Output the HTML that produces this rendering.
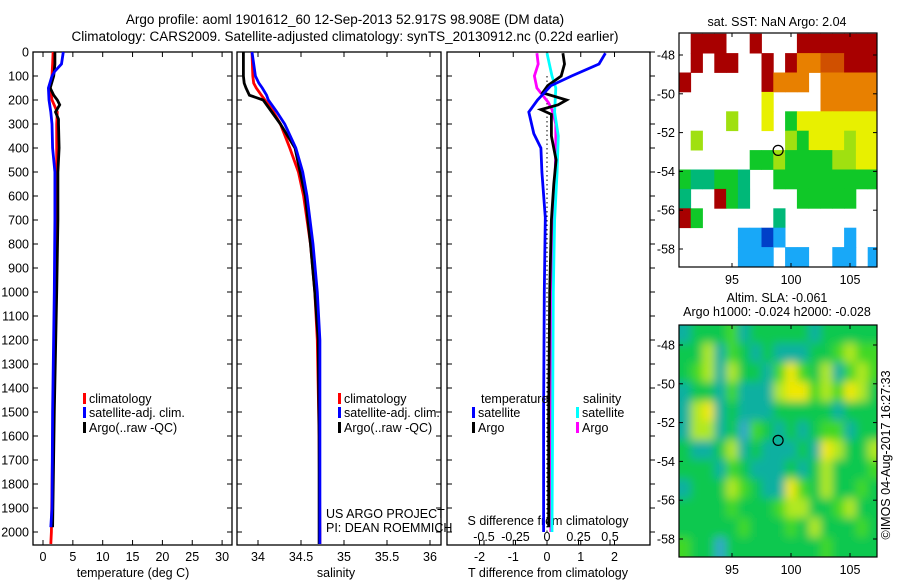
<!DOCTYPE html>
<html><head><meta charset="utf-8"><style>
html,body{margin:0;padding:0;background:#fff;}
svg{display:block;font-family:"Liberation Sans",sans-serif;}
</style></head><body>
<svg id="c" width="900" height="580" viewBox="0 0 900 580">
<defs>
<filter id="blur" x="-10%" y="-10%" width="120%" height="120%"><feGaussianBlur stdDeviation="4.5"/></filter>
<clipPath id="slaclip"><rect x="679" y="325" width="198" height="232"/></clipPath>
</defs>
<rect width="900" height="580" fill="#fff"/>
<text x="345" y="24" font-size="13.5" text-anchor="middle">Argo profile: aoml 1901612_60 12-Sep-2013 52.917S 98.908E (DM data)</text>
<text x="345" y="41" font-size="13.5" text-anchor="middle">Climatology: CARS2009. Satellite-adjusted climatology: synTS_20130912.nc (0.22d earlier)</text>
<g id="g"></g>
</svg>
<script>
// ---- data ----
const depthTicks=[0,100,200,300,400,500,600,700,800,900,1000,1100,1200,1300,1400,1500,1600,1700,1800,1900,2000];
const tempTicks=[0,5,10,15,20,25,30];
const salTicks=[34,34.5,35,35.5,36];
const tdiffTicks=[-2,-1,0,1,2];
const sdiffTicks=[-0.5,-0.25,0,0.25,0.5];
const sdiffTickLabels=["-0.5","-0.25","0","0.25","0.5"];

const tClimDepth=[0,50,100,150,200,250,300,400,500,700,1000,1500,2000,2050];
const tClimVal=[1.7,1.6,1.5,1.2,1.5,2.4,2.3,2.3,2.3,2.2,2.0,1.7,1.4,1.3];
const tSatDepth=[0,50,80,100,150,200,250,300,400,500,700,1000,1500,1900,1980];
const tSatVal=[3.4,3.1,2.0,1.5,0.9,1.0,1.3,1.5,1.6,2.0,2.0,1.9,1.6,1.5,1.3];
const tArgoDepth=[0,50,100,150,180,200,220,250,280,300,400,500,700,1000,1500,1980];
const tArgoVal=[2.0,2.0,1.8,1.2,1.8,2.4,2.8,2.1,2.6,2.6,2.7,2.5,2.5,2.3,1.9,1.6];

const sDepth=[0,100,130,150,180,200,250,300,400,500,600,800,1000,1200,1600,2000,2050];
const sClimVal=[33.93,33.94,33.95,33.98,34.04,34.08,34.18,34.26,34.37,34.47,34.53,34.61,34.66,34.69,34.71,34.72,34.72];
const sSatVal=[33.93,33.97,34.01,34.05,34.1,34.12,34.22,34.31,34.44,34.52,34.57,34.64,34.69,34.72,34.72,34.72,34.72];
const sArgoVal=[33.83,33.83,33.84,33.86,33.9,34.06,34.16,34.26,34.43,34.49,34.55,34.61,34.66,34.70,34.71,34.71,34.71];

const dTSatDepth=[5,50,100,140,200,250,340,400,500,690,1000,1500,2000];
const dTSatVal=[1.73,1.54,0.73,0.12,-0.28,-0.54,-0.39,-0.18,-0.15,-0.05,-0.08,-0.1,-0.1];
const dTArgoDepth=[5,50,100,140,170,200,220,240,260,350,450,550,700,1000,1500,1980];
const dTArgoVal=[0.47,0.52,0.42,0.02,-0.13,0.58,0.33,-0.18,0.13,0.13,0.27,0.2,0.13,0.08,0.05,0.05];
const dSArgoDepth=[5,50,100,150,190,210,240,300,400,600,1000,2000];
const dSArgoVal=[-0.08,-0.07,-0.1,-0.08,-0.02,0.01,0.04,0.07,0.07,0.06,0.04,0.03];
const dSSatDepth=[5,100,150,250,350,500,700,1000,2000];
const dSSatVal=[0.0,0.04,0.07,0.06,0.09,0.08,0.06,0.05,0.04];

// SST map rows (lat -47 .. -58, 1 deg), '.'=missing, 0..9 colour level
const sstRows=[
".999..9...9999999",
".9.99..9.97788999",
"9......9777.77777",
".......5....77777",
"....4..5.35555555",
".4.......43555455",
"......33433334455",
"322332..333333333",
"2..932....33333..",
"93......2........",
".....1101.....1..",
".....111.11..11.1"];
// SLA map rows, 0..5 colour level
const slaRows=[
"12223122222122222",
"22413212111223433",
"23414221353241343",
"12213111455343542",
"14512111222221222",
"14412032121233122",
"21124121112154224",
"22213211121242223",
"12224321153242232",
"22223222344223422",
"22222322232422232",
"32202222222232222"];
const mapLonTicks=[95,100,105];
const mapLatTicks=[-48,-50,-52,-54,-56,-58];
const argoLon=98.908, argoLat=-52.917;

// ---- drawing ----
const NS="http://www.w3.org/2000/svg";
const G=document.getElementById('g');
function mk(tag,at,parent){const e=document.createElementNS(NS,tag);for(const k in at)e.setAttribute(k,at[k]);(parent||G).appendChild(e);return e;}
const yTop=52, yPx=0.24, yBot=545;
function yD(d){return yTop+d*yPx;}

const panels=[{x0:33,x1:232,name:'temperature'},{x0:237,x1:441,name:'salinity'},{x0:447,x1:650,name:'difference'}];
function xT(v){return 43+v*5.97;}
function xS(v){return 258+(v-34)*86;}
function xDT(v){return 547+v*33.75;}
function xDS(v){return 547+v*126;}

panels.forEach((p,i)=>{
  const r=mk('rect',{x:p.x0,y:yTop,width:p.x1-p.x0,height:yBot-yTop,fill:'none',stroke:'#000','stroke-width':1.3});
  
  
  depthTicks.forEach(d=>{
    const y=yD(d);
    mk('line',{x1:p.x0,x2:p.x0+5,y1:y,y2:y,stroke:'#000'});
    if(i<2) mk('line',{x1:p.x1,x2:p.x1-5,y1:y,y2:y,stroke:'#000'});
    else mk('line',{x1:p.x1,x2:p.x1+5,y1:y,y2:y,stroke:'#000'});
    if(i===0){const t=mk('text',{x:29,y:y+4.5,'font-size':12.5,'text-anchor':'end'});t.textContent=d;
      
      }
  });
});
function xticks(arr,fx,labels,ylab,top){
  arr.forEach((v,k)=>{const x=fx(v);
    mk('line',{x1:x,x2:x,y1:yBot,y2:yBot-5,stroke:'#000'});
    if(top) mk('line',{x1:x,x2:x,y1:yTop,y2:yTop+5,stroke:'#000'});
    const t=mk('text',{x:x,y:ylab,'font-size':12.5,'text-anchor':'middle'});t.textContent=labels?labels[k]:v;
    
    
  });
}
xticks(tempTicks,xT,null,561,true);
xticks(salTicks,xS,null,561,true);
xticks(tdiffTicks,xDT,null,561,true);
xticks(sdiffTicks,xDS,sdiffTickLabels,541,false);

function txt(s,x,y,name,anchor,size){const t=mk('text',{x:x,y:y,'font-size':size||12.5,'text-anchor':anchor||'start'});t.textContent=s;
  
  return t;}
txt('temperature (deg C)',133,577,'x-axis-title-temperature','middle');
txt('salinity',336,577,'x-axis-title-salinity','middle');
txt('T difference from climatology',548,577,'x-axis-title-t-difference','middle');
txt('S difference from climatology',548,525,'axis-title-s-difference','middle');
txt('US ARGO PROJECT',326,518,'credit-project');
txt('PI: DEAN ROEMMICH',326,532,'credit-pi');

function line(ds,vs,fx,col,name,w){
  const pts=ds.map((d,k)=>fx(vs[k]).toFixed(1)+','+yD(d).toFixed(1)).join(' ');
  const e=mk('polyline',{points:pts,fill:'none',stroke:col,'stroke-width':w||2.8,'stroke-linejoin':'miter'});
  
  
}
line(tClimDepth,tClimVal,xT,'#f00','temp-climatology-line');
line(tArgoDepth,tArgoVal,xT,'#000','temp-argo-line');
line(tSatDepth,tSatVal,xT,'#00f','temp-satellite-line');
line(sDepth,sClimVal,xS,'#f00','sal-climatology-line');
line(sDepth,sArgoVal,xS,'#000','sal-argo-line');
line(sDepth,sSatVal,xS,'#00f','sal-satellite-line');
const z=mk('line',{x1:xDT(0),x2:xDT(0),y1:yD(100),y2:yD(2000),stroke:'#000','stroke-dasharray':'1.5,3'});


line(dSArgoDepth,dSArgoVal,xDS,'#f0f','s-diff-argo-line');
line(dSSatDepth,dSSatVal,xDS,'#0ff','s-diff-satellite-line');
line(dTArgoDepth,dTArgoVal,xDT,'#000','t-diff-argo-line');
line(dTSatDepth,dTSatVal,xDT,'#00f','t-diff-satellite-line');

function leg(x,y,col,label,name){
  const b=mk('rect',{x:x,y:y-10,width:3,height:11,fill:col});
  
  
  txt(label,x+6,y,name);
}
leg(83,403,'#f00','climatology','legend-climatology');
leg(83,417,'#00f','satellite-adj. clim.','legend-satellite');
leg(83,432,'#000','Argo(..raw -QC)','legend-argo');
leg(338,403,'#f00','climatology','legend2-climatology');
leg(338,417,'#00f','satellite-adj. clim.','legend2-satellite');
leg(338,432,'#000','Argo(..raw -QC)','legend2-argo');
txt('temperature',481,403,'legend-temperature-heading');
txt('salinity',583,403,'legend-salinity-heading');
leg(472,417,'#00f','satellite','legend-t-satellite');
leg(472,432,'#000','Argo','legend-t-argo');
leg(576,417,'#0ff','satellite','legend-s-satellite');
leg(576,432,'#f0f','Argo','legend-s-argo');

// maps
const sstCols=['#0040c8','#18a8f8','#00b878','#10c828','#a0e010','#e8f000','#f8c800','#e88000','#d05000','#a80000'];
const slaCols=['#30a8c8','#10b0a0','#10c850','#40d828','#b0e820','#f0e800'];
function mx(lon){return 732+(lon-95)*11.8;}
function drawMap(rows,cols,top,latY0,name,bottom,smooth){
  const x0=679,x1=877;
  const lonL=90.5;
  const ly=d=>latY0+(d-48)*19.4;
  let layer=G;
  if(smooth){
    const outer=mk('g',{'clip-path':'url(#slaclip)'});
    
    
    mk('rect',{x:x0,y:top,width:x1-x0,height:bottom-top,fill:cols[2]},outer);
    layer=mk('g',{filter:'url(#blur)'},outer);
  }
  rows.forEach((row,j)=>{
    for(let i=0;i<row.length;i++){const ch=row[i]; if(ch==='.')continue;
      let xa=mx(lonL+i), xb=mx(lonL+i+1);
      let ya=ly(46.9+j), yb=ly(47.9+j);
      if(smooth){ if(i===0)xa-=12; if(i===row.length-1)xb+=12; if(j===0)ya-=25; if(j===rows.length-1)yb+=25; }
      else { xa=Math.max(xa,x0); xb=Math.min(xb,x1); ya=Math.max(ya,top); yb=Math.min(yb,bottom); }
      const c=mk('rect',{x:xa.toFixed(1),y:ya.toFixed(1),width:(xb-xa+0.4).toFixed(1),height:(yb-ya+0.4).toFixed(1),fill:cols[+ch]},layer);
      
      
    }
  });
  const f=mk('rect',{x:x0,y:top,width:x1-x0,height:bottom-top,fill:'none',stroke:'#000','stroke-width':1.2});
  
  
  mapLatTicks.forEach(l=>{const y=ly(-l);
    mk('line',{x1:x0,x2:x0+4,y1:y,y2:y,stroke:'#000'});
    mk('line',{x1:x1,x2:x1-4,y1:y,y2:y,stroke:'#000'});
    txt(String(l),675,y+4.5,name+'-lat-label','end');});
  mapLonTicks.forEach(l=>{const x=mx(l);
    mk('line',{x1:x,x2:x,y1:bottom,y2:bottom-4,stroke:'#000'});
    mk('line',{x1:x,x2:x,y1:top,y2:top+4,stroke:'#000'});
    txt(String(l),x,bottom+17,name+'-lon-label','middle');});
  const c=mk('circle',{cx:mx(argoLon),cy:ly(-argoLat),r:5,fill:'none',stroke:'#000','stroke-width':1.2});
  
  
}
drawMap(sstRows,sstCols,33,55,'sst-map',267,false);
drawMap(slaRows,slaCols,325,345,'sla-map',557,true);
txt('sat. SST: NaN Argo: 2.04',777,26,'sst-map-title','middle');
txt('Altim. SLA: -0.061',777,302,'sla-map-title','middle');
txt('Argo h1000: -0.024 h2000: -0.028',777,316,'sla-map-subtitle','middle');
const r=txt('©IMOS 04-Aug-2017 16:27:33',0,0,'timestamp-credit','middle');
r.setAttribute('transform','translate(890,455) rotate(-90)');
</script>
</body></html>
